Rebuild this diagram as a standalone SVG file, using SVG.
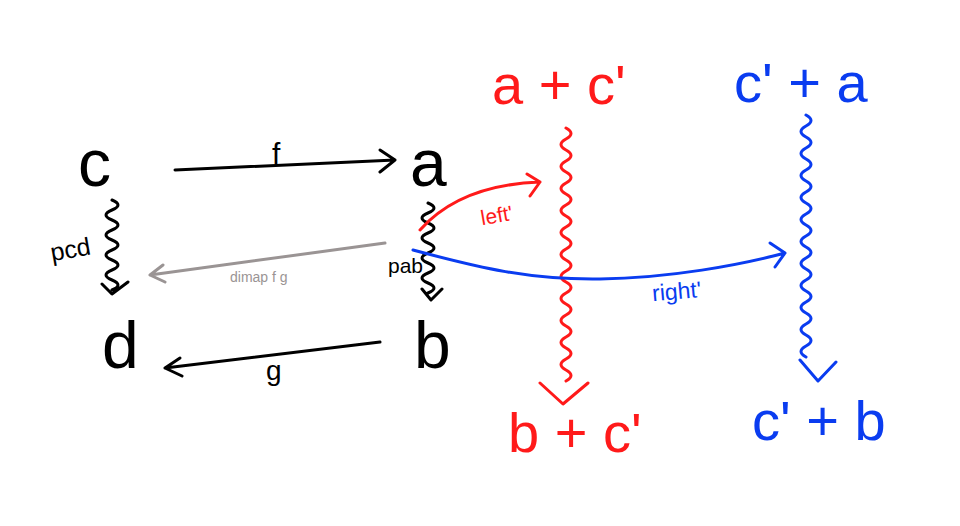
<svg xmlns="http://www.w3.org/2000/svg" width="960" height="526" viewBox="0 0 960 526">
<style>
.ln{fill:none;stroke-width:3;stroke-linecap:round;stroke-linejoin:round}
.k{stroke:#000}.r{stroke:#ff1a1a}.b{stroke:#0a3cf0}.g{stroke:#9a9494}
.big{font-family:"Liberation Sans","DejaVu Sans",sans-serif;font-size:66px}
.mid{font-family:"Liberation Sans","DejaVu Sans",sans-serif;font-size:56px}
.lab{font-family:"Liberation Sans","DejaVu Sans",sans-serif}
</style>
<rect width="960" height="526" fill="#fff"/>
<g id="node-c"><text class="big" x="78" y="186">c</text></g>
<g id="node-a"><text class="big" x="410" y="186">a</text></g>
<g id="node-d"><text class="big" x="102" y="368">d</text></g>
<g id="node-b"><text class="big" x="414" y="368">b</text></g>
<g id="node-apc" fill="#ff1a1a"><text class="mid" x="492" y="104">a + c'</text></g>
<g id="node-bpc" fill="#ff1a1a"><text class="mid" x="508" y="452">b + c'</text></g>
<g id="node-cpa" fill="#0a3cf0"><text class="mid" x="734" y="102">c' + a</text></g>
<g id="node-cpb" fill="#0a3cf0"><text class="mid" x="752" y="440">c' + b</text></g>
<g id="connectors">
<path class="ln k" d="M175 170 L395 160 M380 150 L395 160 L380 172"/>
<text class="lab" x="272" y="164" style="font-size:30px">f</text>
<path class="ln k" d="M380 342 L165 368 M180 358 L165 368 L182 376"/>
<text class="lab" x="266" y="380" style="font-size:28px">g</text>
<path class="ln g" d="M385 243 L150 275 M163 265 L150 275 L165 282"/>
<text class="lab" x="230" y="282" fill="#9a9494" style="font-size:14px">dimap f g</text>
<path class="ln k" d="M112 200 q12 5 0 10 q-12 5 0 10 q12 5 0 10 q-12 5 0 10 q12 5 0 10 q-12 5 0 10 q12 5 0 10 q-12 5 0 10 q12 5 0 10 M102 284 L112 294 L128 282"/>
<text class="lab" x="50" y="258" style="font-size:25px" transform="rotate(-10 70 248)">pcd</text>
<path class="ln k" d="M428 203 q12 5 0 10 q-12 5 0 10 q12 5 0 10 q-12 5 0 10 q12 5 0 10 q-12 5 0 10 q12 5 0 10 q-12 5 0 10 q12 5 0 10 M422 289 L431 300 L442 289"/>
<text class="lab" x="388" y="273" style="font-size:21px">pab</text>
<path class="ln r" d="M566 128 q10 5.5 0 11 q-10 5.5 0 11 q10 5.5 0 11 q-10 5.5 0 11 q10 5.5 0 11 q-10 5.5 0 11 q10 5.5 0 11 q-10 5.5 0 11 q10 5.5 0 11 q-10 5.5 0 11 q10 5.5 0 11 q-10 5.5 0 11 q10 5.5 0 11 q-10 5.5 0 11 q10 5.5 0 11 q-10 5.5 0 11 q10 5.5 0 11 q-10 5.5 0 11 q10 5.5 0 11 q-10 5.5 0 11 q10 5.5 0 11 q-10 5.5 0 11 q10 5.5 0 11 M540 383 L563 404 L588 383"/>
<path class="ln b" d="M806 115 q10 5.5 0 11 q-10 5.5 0 11 q10 5.5 0 11 q-10 5.5 0 11 q10 5.5 0 11 q-10 5.5 0 11 q10 5.5 0 11 q-10 5.5 0 11 q10 5.5 0 11 q-10 5.5 0 11 q10 5.5 0 11 q-10 5.5 0 11 q10 5.5 0 11 q-10 5.5 0 11 q10 5.5 0 11 q-10 5.5 0 11 q10 5.5 0 11 q-10 5.5 0 11 q10 5.5 0 11 q-10 5.5 0 11 q10 5.5 0 11 q-10 5.5 0 11 M800 360 L818 381 L836 362"/>
<path class="ln r" d="M420 230 Q460 185 540 182 M527 174 L540 182 L530 196"/>
<text class="lab" x="480" y="222" fill="#ff1a1a" style="font-size:21px" transform="rotate(-10 500 212)">left'</text>
<path class="ln b" d="M413 250 C480 268 530 280 600 279 S740 265 785 253 M770 243 L785 253 L775 267"/>
<text class="lab" x="652" y="298" fill="#0a3cf0" style="font-size:23px" transform="rotate(-5 690 290)">right'</text>
</g>
</svg>
